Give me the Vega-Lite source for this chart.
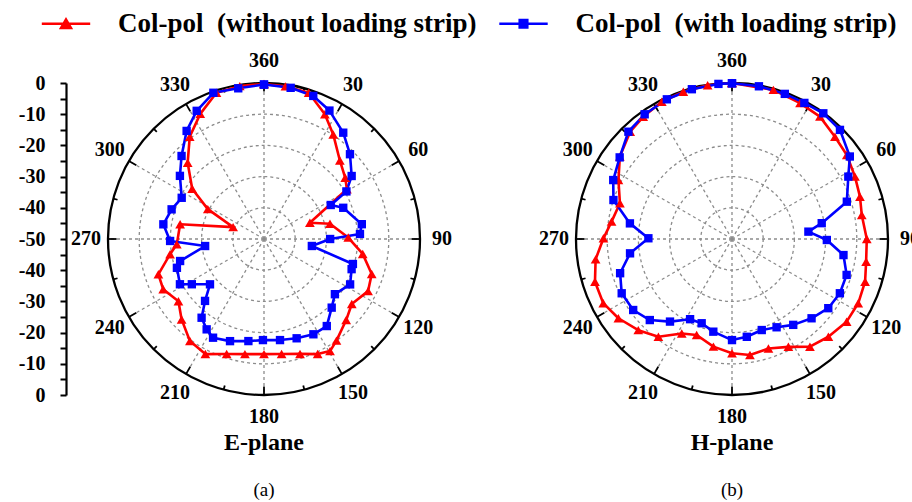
{
  "$schema": "https://vega.github.io/schema/vega-lite/v6.json",
  "width": 780,
  "height": 312,
  "autosize": {"type": "none"},
  "padding": {"left": 108, "top": 83, "right": 24, "bottom": 107},
  "background": "white",
  "config": {"view": {"stroke": null}, "font": "Liberation Serif"},
  "datasets": {
    "curves": [
      {"p":"E","s":"without","a":0,"db":-0.3},{"p":"E","s":"without","a":8,"db":-0.6},{"p":"E","s":"without","a":17,"db":-1.0},{"p":"E","s":"without","a":26,"db":-5.5},{"p":"E","s":"without","a":33.5,"db":-9.8},{"p":"E","s":"without","a":44,"db":-15},{"p":"E","s":"without","a":53,"db":-17.4},{"p":"E","s":"without","a":59,"db":-19},{"p":"E","s":"without","a":70.5,"db":-34.4},{"p":"E","s":"without","a":77,"db":-28.3},{"p":"E","s":"without","a":89,"db":-23},{"p":"E","s":"without","a":98.6,"db":-18},{"p":"E","s":"without","a":108,"db":-13.7},{"p":"E","s":"without","a":116.6,"db":-12.7},{"p":"E","s":"without","a":126.5,"db":-15},{"p":"E","s":"without","a":134.6,"db":-13},{"p":"E","s":"without","a":144.5,"db":-10},{"p":"E","s":"without","a":149.5,"db":-8.3},{"p":"E","s":"without","a":155,"db":-9.3},{"p":"E","s":"without","a":162.6,"db":-11.4},{"p":"E","s":"without","a":171.3,"db":-12.7},{"p":"E","s":"without","a":180,"db":-13.1},{"p":"E","s":"without","a":189.4,"db":-12.6},{"p":"E","s":"without","a":198,"db":-11.25},{"p":"E","s":"without","a":207,"db":-8.6},{"p":"E","s":"without","a":216,"db":-9.6},{"p":"E","s":"without","a":225.7,"db":-13.1},{"p":"E","s":"without","a":234,"db":-16.1},{"p":"E","s":"without","a":243.5,"db":-13.9},{"p":"E","s":"without","a":251.5,"db":-14.3},{"p":"E","s":"without","a":260.8,"db":-19.5},{"p":"E","s":"without","a":266.5,"db":-22},{"p":"E","s":"without","a":280,"db":-22.7},{"p":"E","s":"without","a":291,"db":-39.4},{"p":"E","s":"without","a":298,"db":-29.6},{"p":"E","s":"without","a":305,"db":-21.9},{"p":"E","s":"without","a":315,"db":-15.4},{"p":"E","s":"without","a":324,"db":-9.5},{"p":"E","s":"without","a":333,"db":-5},{"p":"E","s":"without","a":342,"db":-0.7},{"p":"E","s":"without","a":351,"db":-0.4},{"p":"E","s":"without","a":360,"db":-0.3},
      {"p":"E","s":"with","a":0,"db":-0.5},{"p":"E","s":"with","a":10,"db":-0.8},{"p":"E","s":"with","a":19,"db":-1.5},{"p":"E","s":"with","a":27,"db":-3.8},{"p":"E","s":"with","a":36.7,"db":-7.5},{"p":"E","s":"with","a":45.4,"db":-11.3},{"p":"E","s":"with","a":54.3,"db":-15.4},{"p":"E","s":"with","a":60,"db":-19.5},{"p":"E","s":"with","a":63,"db":-26},{"p":"E","s":"with","a":68.5,"db":-22.7},{"p":"E","s":"with","a":81.4,"db":-18.3},{"p":"E","s":"with","a":87,"db":-19.2},{"p":"E","s":"with","a":90,"db":-28.8},{"p":"E","s":"with","a":98.3,"db":-34.5},{"p":"E","s":"with","a":105.7,"db":-20.4},{"p":"E","s":"with","a":109,"db":-20.3},{"p":"E","s":"with","a":117.8,"db":-18.8},{"p":"E","s":"with","a":127.9,"db":-21.2},{"p":"E","s":"with","a":135.4,"db":-19.1},{"p":"E","s":"with","a":144.2,"db":-15.6},{"p":"E","s":"with","a":152.6,"db":-15.6},{"p":"E","s":"with","a":161.8,"db":-16.5},{"p":"E","s":"with","a":171,"db":-17.2},{"p":"E","s":"with","a":180.6,"db":-17.6},{"p":"E","s":"with","a":188.7,"db":-16.9},{"p":"E","s":"with","a":198.4,"db":-15.5},{"p":"E","s":"with","a":207.3,"db":-14.4},{"p":"E","s":"with","a":212.4,"db":-15.7},{"p":"E","s":"with","a":218.4,"db":-17.8},{"p":"E","s":"with","a":223.6,"db":-22.6},{"p":"E","s":"with","a":230,"db":-27.4},{"p":"E","s":"with","a":237.9,"db":-22.7},{"p":"E","s":"with","a":241.7,"db":-19.4},{"p":"E","s":"with","a":251.7,"db":-20.6},{"p":"E","s":"with","a":255.3,"db":-22.2},{"p":"E","s":"with","a":263.2,"db":-31},{"p":"E","s":"with","a":268.8,"db":-19.9},{"p":"E","s":"with","a":278.3,"db":-17.4},{"p":"E","s":"with","a":287.8,"db":-18.9},{"p":"E","s":"with","a":296.6,"db":-20.5},{"p":"E","s":"with","a":306.9,"db":-16.3},{"p":"E","s":"with","a":315.2,"db":-12.5},{"p":"E","s":"with","a":324.4,"db":-7.4},{"p":"E","s":"with","a":332.3,"db":-3.6},{"p":"E","s":"with","a":340.9,"db":-0.4},{"p":"E","s":"with","a":350.3,"db":-1},{"p":"E","s":"with","a":360,"db":-0.5},
      {"p":"H","s":"without","a":0,"db":0},{"p":"H","s":"without","a":15.5,"db":-0.4},{"p":"H","s":"without","a":26.6,"db":-1.3},{"p":"H","s":"without","a":35.7,"db":-1.7},{"p":"H","s":"without","a":45.2,"db":-3.5},{"p":"H","s":"without","a":53.8,"db":-4.4},{"p":"H","s":"without","a":63.1,"db":-5.8},{"p":"H","s":"without","a":71.7,"db":-6.8},{"p":"H","s":"without","a":79.5,"db":-7.7},{"p":"H","s":"without","a":90,"db":-6.8},{"p":"H","s":"without","a":99.6,"db":-6.4},{"p":"H","s":"without","a":107.8,"db":-5.2},{"p":"H","s":"without","a":117,"db":-4.6},{"p":"H","s":"without","a":125.8,"db":-4.7},{"p":"H","s":"without","a":135.4,"db":-6},{"p":"H","s":"without","a":144.1,"db":-7.4},{"p":"H","s":"without","a":152.4,"db":-11},{"p":"H","s":"without","a":161.6,"db":-13},{"p":"H","s":"without","a":171.2,"db":-12.4},{"p":"H","s":"without","a":180,"db":-13.4},{"p":"H","s":"without","a":189.8,"db":-15},{"p":"H","s":"without","a":200.2,"db":-17.2},{"p":"H","s":"without","a":208,"db":-15.7},{"p":"H","s":"without","a":217,"db":-10.8},{"p":"H","s":"without","a":225.8,"db":-8.1},{"p":"H","s":"without","a":235.1,"db":-5.6},{"p":"H","s":"without","a":243.5,"db":-3.9},{"p":"H","s":"without","a":252.7,"db":-4},{"p":"H","s":"without","a":261.5,"db":-5.8},{"p":"H","s":"without","a":270.3,"db":-8.8},{"p":"H","s":"without","a":278.2,"db":-11},{"p":"H","s":"without","a":287.7,"db":-12.3},{"p":"H","s":"without","a":297.4,"db":-9},{"p":"H","s":"without","a":306.3,"db":-5.4},{"p":"H","s":"without","a":316.5,"db":-2.6},{"p":"H","s":"without","a":324,"db":-1.6},{"p":"H","s":"without","a":332.9,"db":-0.6},{"p":"H","s":"without","a":341.7,"db":-0.3},{"p":"H","s":"without","a":351,"db":-0.1},{"p":"H","s":"without","a":360,"db":0},
      {"p":"H","s":"with","a":0,"db":-0.1},{"p":"H","s":"with","a":10,"db":-0.3},{"p":"H","s":"with","a":20,"db":-0.5},{"p":"H","s":"with","a":28,"db":-0.6},{"p":"H","s":"with","a":36,"db":-0.2},{"p":"H","s":"with","a":44.7,"db":-0.8},{"p":"H","s":"with","a":55,"db":-3.9},{"p":"H","s":"with","a":61.8,"db":-7.7},{"p":"H","s":"with","a":72,"db":-11.3},{"p":"H","s":"with","a":80,"db":-20.8},{"p":"H","s":"with","a":84.5,"db":-25.4},{"p":"H","s":"with","a":90.6,"db":-19.6},{"p":"H","s":"with","a":98.2,"db":-13.9},{"p":"H","s":"with","a":107.4,"db":-11.5},{"p":"H","s":"with","a":116.7,"db":-11.3},{"p":"H","s":"with","a":125.7,"db":-12},{"p":"H","s":"with","a":134.9,"db":-14},{"p":"H","s":"with","a":144.5,"db":-16.2},{"p":"H","s":"with","a":153.2,"db":-18.3},{"p":"H","s":"with","a":161.9,"db":-19.3},{"p":"H","s":"with","a":171.4,"db":-18.3},{"p":"H","s":"with","a":180,"db":-17.6},{"p":"H","s":"with","a":191.4,"db":-19.7},{"p":"H","s":"with","a":199.8,"db":-21.3},{"p":"H","s":"with","a":207.6,"db":-21},{"p":"H","s":"with","a":216.9,"db":-16.9},{"p":"H","s":"with","a":225.4,"db":-13},{"p":"H","s":"with","a":234.3,"db":-11},{"p":"H","s":"with","a":243.8,"db":-10.6},{"p":"H","s":"with","a":253,"db":-12.5},{"p":"H","s":"with","a":262,"db":-17},{"p":"H","s":"with","a":270.5,"db":-23.2},{"p":"H","s":"with","a":278.7,"db":-16.9},{"p":"H","s":"with","a":288.2,"db":-10},{"p":"H","s":"with","a":296.4,"db":-7.5},{"p":"H","s":"with","a":306,"db":-5.5},{"p":"H","s":"with","a":316,"db":-2.2},{"p":"H","s":"with","a":325,"db":-1.2},{"p":"H","s":"with","a":335,"db":-0.6},{"p":"H","s":"with","a":345,"db":-0.3},{"p":"H","s":"with","a":355,"db":-0.1},{"p":"H","s":"with","a":360,"db":-0.1}
    ],
    "angles": [
      {"a":0,"p":["E","H"]},{"a":15,"p":["E","H"]},{"a":30,"p":["E","H"]},{"a":45,"p":["E","H"]},{"a":60,"p":["E","H"]},{"a":75,"p":["E","H"]},{"a":90,"p":["E","H"]},{"a":105,"p":["E","H"]},{"a":120,"p":["E","H"]},{"a":135,"p":["E","H"]},{"a":150,"p":["E","H"]},{"a":165,"p":["E","H"]},{"a":180,"p":["E","H"]},{"a":195,"p":["E","H"]},{"a":210,"p":["E","H"]},{"a":225,"p":["E","H"]},{"a":240,"p":["E","H"]},{"a":255,"p":["E","H"]},{"a":270,"p":["E","H"]},{"a":285,"p":["E","H"]},{"a":300,"p":["E","H"]},{"a":315,"p":["E","H"]},{"a":330,"p":["E","H"]},{"a":345,"p":["E","H"]}
    ],
    "rings": [
      {"level":-40,"p":["E","H"]},{"level":-30,"p":["E","H"]},{"level":-20,"p":["E","H"]},{"level":-10,"p":["E","H"]}
    ],
    "outer": [
      {"level":0,"p":["E","H"]}
    ],
    "titles": [
      {"p":"E","name":"E-plane","tag":"(a)"},{"p":"H","name":"H-plane","tag":"(b)"}
    ]
  },
  "encoding": {
    "x": {"field": "X", "type": "quantitative", "scale": {"domain": [-1, 4], "nice": false, "zero": false}, "axis": null},
    "y": {"field": "Y", "type": "quantitative", "scale": {"domain": [-1, 1], "nice": false, "zero": false},
      "axis": {
        "orient": "left", "offset": 42, "title": null, "grid": false,
        "values": [-1, -0.9, -0.8, -0.7, -0.6, -0.5, -0.4, -0.3, -0.2, -0.1, 0, 0.1, 0.2, 0.3, 0.4, 0.5, 0.6, 0.7, 0.8, 0.9, 1],
        "labelExpr": "round(datum.value * 50) % 10 == 0 ? toString(round(abs(datum.value) * 50) - 50) : ''",
        "tickSize": 6,
        "tickWidth": 2, "tickColor": "#000", "domainColor": "#000", "domainWidth": 2.2,
        "labelFont": "Liberation Serif", "labelFontWeight": "bold", "labelFontSize": 20, "labelColor": "#000",
        "labelPadding": 15, "labelBound": false, "labelOverlap": false, "labelFlush": false
      }
    }
  },
  "layer": [
    {
      "data": {"name": "rings"},
      "transform": [
        {"flatten": ["p"]},
        {"calculate": "datum.p == 'E' ? 0 : 3", "as": "X"},
        {"calculate": "0", "as": "Y"},
        {"calculate": "datum.level + 50", "as": "rad"}
      ],
      "mark": {"type": "point", "shape": "circle", "filled": false, "opacity": 1, "stroke": "#8c8c8c", "strokeWidth": 1.3, "strokeDash": [3, 3]},
      "encoding": {
        "size": {"field": "rad", "type": "quantitative", "scale": {"type": "pow", "exponent": 2, "domain": [0, 50], "range": [0, 97344], "zero": true}, "legend": null}
      }
    },
    {
      "data": {"name": "angles"},
      "transform": [
        {"flatten": ["p"]},
        {"filter": "datum.a % 30 == 0"},
        {"calculate": "datum.p == 'E' ? 0 : 3", "as": "X"},
        {"calculate": "0", "as": "Y"},
        {"calculate": "datum.X + sin(datum.a * PI / 180)", "as": "X2"},
        {"calculate": "cos(datum.a * PI / 180)", "as": "Y2"}
      ],
      "mark": {"type": "rule", "stroke": "#8c8c8c", "strokeWidth": 1.3, "strokeDash": [3, 3]},
      "encoding": {
        "x2": {"field": "X2"},
        "y2": {"field": "Y2"}
      }
    },
    {
      "data": {"name": "angles"},
      "transform": [
        {"flatten": ["p"]},
        {"calculate": "datum.p == 'E' ? 0 : 3", "as": "cx"},
        {"calculate": "datum.a % 30 == 0 ? 0.945 : 0.972", "as": "r0"},
        {"calculate": "datum.cx + datum.r0 * sin(datum.a * PI / 180)", "as": "X"},
        {"calculate": "datum.r0 * cos(datum.a * PI / 180)", "as": "Y"},
        {"calculate": "datum.cx + sin(datum.a * PI / 180)", "as": "X2"},
        {"calculate": "cos(datum.a * PI / 180)", "as": "Y2"}
      ],
      "mark": {"type": "rule", "stroke": "#000", "strokeWidth": 1.8},
      "encoding": {
        "x2": {"field": "X2"},
        "y2": {"field": "Y2"}
      }
    },
    {
      "data": {"name": "outer"},
      "transform": [
        {"flatten": ["p"]},
        {"calculate": "datum.p == 'E' ? 0 : 3", "as": "X"},
        {"calculate": "0", "as": "Y"},
        {"calculate": "datum.level + 50", "as": "rad"}
      ],
      "mark": {"type": "point", "shape": "circle", "filled": false, "opacity": 1, "stroke": "#000", "strokeWidth": 2.3},
      "encoding": {
        "size": {"field": "rad", "type": "quantitative", "legend": null}
      }
    },
    {
      "data": {"name": "curves"},
      "transform": [
        {"calculate": "datum.p == 'E' ? 0 : 3", "as": "cx"},
        {"calculate": "(datum.db + 50) / 50", "as": "r"},
        {"calculate": "datum.cx + datum.r * sin(datum.a * PI / 180)", "as": "X"},
        {"calculate": "datum.r * cos(datum.a * PI / 180)", "as": "Y"}
      ],
      "layer": [
        {
          "transform": [{"filter": "datum.s == 'without'"}],
          "mark": {"type": "line", "strokeWidth": 2.6, "strokeJoin": "round", "color": "#ff0000"},
          "encoding": {
            "detail": {"field": "p", "type": "nominal"},
            "order": {"field": "a", "type": "quantitative"}
          }
        },
        {
          "transform": [{"filter": "datum.s == 'with'"}],
          "mark": {"type": "line", "strokeWidth": 2.6, "strokeJoin": "round", "color": "#0000ff"},
          "encoding": {
            "detail": {"field": "p", "type": "nominal"},
            "order": {"field": "a", "type": "quantitative"}
          }
        },
        {
          "transform": [{"filter": "datum.s == 'without'"}],
          "mark": {"type": "point", "shape": "triangle-up", "filled": true, "opacity": 1, "size": 95, "color": "#ff0000"}
        },
        {
          "transform": [{"filter": "datum.s == 'with'"}],
          "mark": {"type": "point", "shape": "square", "filled": true, "opacity": 1, "size": 70, "color": "#0000ff"}
        },
        {
          "transform": [{"filter": "false"}],
          "mark": {"type": "point", "filled": true, "opacity": 1},
          "encoding": {
            "color": {"field": "s", "type": "nominal", "scale": {"domain": ["without", "with"], "range": ["#ff0000", "#0000ff"]},
              "legend": {
                "title": null, "orient": "none", "legendX": -55.5, "legendY": -73, "direction": "horizontal",
                "symbolSize": 484, "symbolOpacity": 1, "symbolStrokeWidth": 0,
                "labelFont": "Liberation Serif", "labelFontWeight": "bold", "labelFontSize": 27, "labelColor": "#000",
                "labelOffset": 38.5, "columnPadding": 21.5, "labelLimit": 0,
                "labelExpr": "'Col-pol\u00a0 (' + datum.label + ' loading strip)'"
              }
            },
            "shape": {"field": "s", "type": "nominal",
              "scale": {"domain": ["without", "with"], "range": ["M-2.2,-0.11H2.2V0.11H-2.2ZM-0.65,0.5L0,-0.62L0.65,0.5Z", "M-2.2,-0.11H2.2V0.11H-2.2ZM-0.46,-0.46H0.46V0.46H-0.46Z"]},
              "legend": {
                "title": null, "orient": "none", "legendX": -55.5, "legendY": -73, "direction": "horizontal",
                "symbolSize": 484, "symbolOpacity": 1, "symbolStrokeWidth": 0,
                "labelFont": "Liberation Serif", "labelFontWeight": "bold", "labelFontSize": 27, "labelColor": "#000",
                "labelOffset": 38.5, "columnPadding": 21.5, "labelLimit": 0,
                "labelExpr": "'Col-pol\u00a0 (' + datum.label + ' loading strip)'"
              }
            }
          }
        }
      ]
    },
    {
      "data": {"name": "angles"},
      "transform": [
        {"flatten": ["p"]},
        {"filter": "datum.a % 30 == 0"},
        {"calculate": "datum.p == 'E' ? 0 : 3", "as": "cx"},
        {"calculate": "datum.a == 0 ? '360' : toString(datum.a)", "as": "lab"},
        {"calculate": "datum.cx + 1.141 * sin(datum.a * PI / 180)", "as": "X"},
        {"calculate": "1.141 * cos(datum.a * PI / 180)", "as": "Y"}
      ],
      "mark": {"type": "text", "font": "Liberation Serif", "fontWeight": "bold", "fontSize": 20, "color": "#000", "align": "center", "baseline": "middle"},
      "encoding": {
        "text": {"field": "lab", "type": "nominal"}
      }
    },
    {
      "data": {"name": "titles"},
      "transform": [
        {"calculate": "datum.p == 'E' ? 0 : 3", "as": "X"},
        {"calculate": "-1.31", "as": "Y"}
      ],
      "layer": [
        {
          "mark": {"type": "text", "font": "Liberation Serif", "fontWeight": "bold", "fontSize": 24, "color": "#000", "align": "center", "baseline": "middle"},
          "encoding": {
            "text": {"field": "name", "type": "nominal"}
          }
        },
        {
          "mark": {"type": "text", "font": "Liberation Serif", "fontWeight": "normal", "fontSize": 19, "color": "#000", "align": "center", "baseline": "middle", "dy": 47},
          "encoding": {
            "text": {"field": "tag", "type": "nominal"}
          }
        }
      ]
    }
  ]
}
